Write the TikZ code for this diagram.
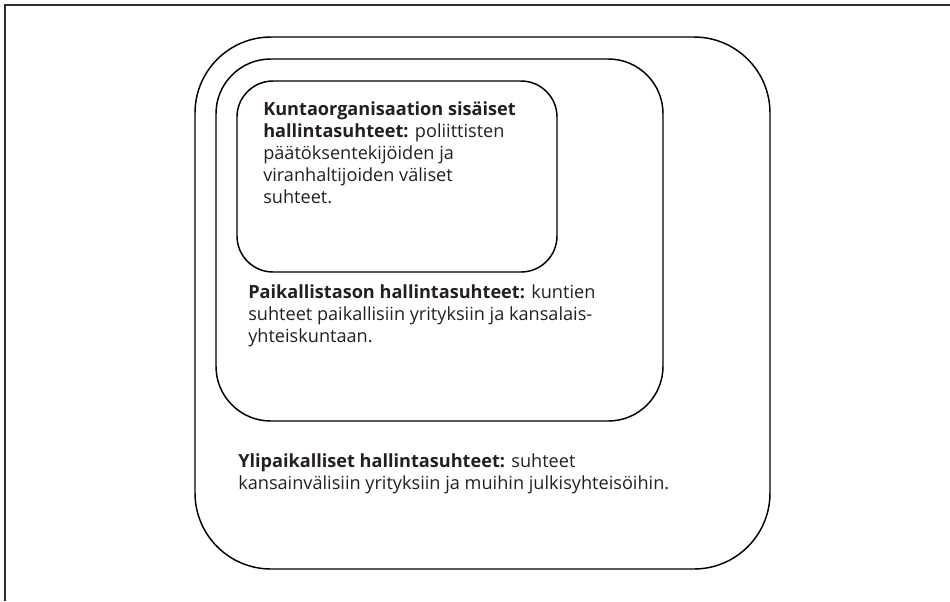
\documentclass[tikz,border=0pt]{standalone}
\usepackage{fontspec}
\setmainfont{Open Sans}
\definecolor{txt}{HTML}{231F20}
\definecolor{frame}{HTML}{2B2F33}
\begin{document}
\begin{tikzpicture}[x=0.75pt,y=-0.75pt,
  box/.style={draw=black,line width=1.1pt},
  para/.style={anchor=north west,inner sep=0pt,align=left,text=txt,
    font=\fontsize{13.6}{16.6}\selectfont}]
\useasboundingbox (0,0) rectangle (950,601);
% page frame (top and left edges)
\draw[frame,line width=0.8pt] (5,601) -- (5,5) -- (950,5);
% nested rounded boxes
\draw[box,rounded corners=57pt] (195,37) rectangle (770,569);
\draw[box,rounded corners=41pt] (216,59) rectangle (663,421);
\draw[box,rounded corners=27pt] (237,81) rectangle (557,272);
% texts
\node[para] (t1) at (263,101) {\textbf{Kuntaorganisaation sisäiset}\\
\textbf{hallintasuhteet:} poliittisten\\
päätöksentekijöiden ja\\
viranhaltijoiden väliset\\
suhteet.};
\node[para] (t2) at (248,284) {\textbf{Paikallistason hallintasuhteet:} kuntien\\
suhteet paikallisiin yrityksiin ja kansalais-\\
yhteiskuntaan.};
\node[para] (t3) at (238,453) {\textbf{Ylipaikalliset hallintasuhteet:} suhteet\\
kansainvälisiin yrityksiin ja muihin julkisyhteisöihin.};
\end{tikzpicture}
\end{document}
